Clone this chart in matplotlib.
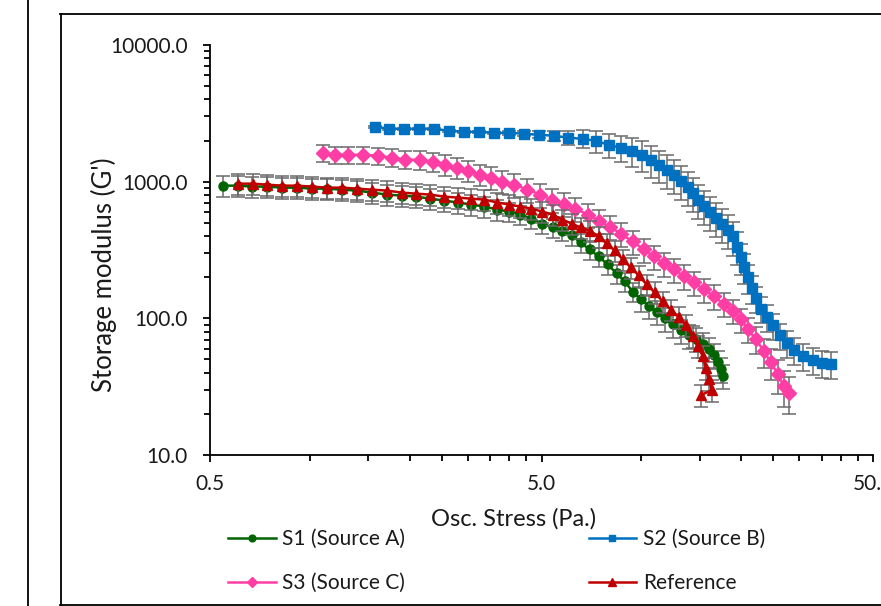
import matplotlib
matplotlib.use("Agg")
import matplotlib.pyplot as plt
from matplotlib.lines import Line2D
from matplotlib.ticker import FixedLocator, NullFormatter
import numpy as np

plt.rcParams['font.family'] = ['Lato', 'DejaVu Sans']

# ---------------- data ----------------
series_names = ["S1 (Source A)", "S2 (Source B)", "S3 (Source C)", "Reference"]

s1_x = [0.547, 0.608, 0.670, 0.743, 0.826, 0.916, 1.017, 1.128, 1.253, 1.390,
        1.543, 1.713, 1.901, 2.097, 2.310, 2.546, 2.807, 3.072, 3.364, 3.682,
        4.003, 4.32, 4.66, 5.03, 5.40, 5.78, 6.16, 6.56, 6.98, 7.43,
        7.91, 8.43, 8.91, 9.42, 9.95, 10.52, 11.13, 11.76, 12.44, 13.15,
        13.90, 14.60, 15.33, 15.98, 16.55, 17.01, 17.37, 17.61]
s1_y = [935, 935, 920, 920, 904, 904, 889, 889, 874, 860,
        831, 804, 790, 777, 751, 727, 703, 680, 657, 625,
        604, 574, 537, 494, 462, 439, 404, 359, 319, 284,
        248, 213, 186, 157, 138, 124, 111, 100, 90.4, 81.7,
        75.1, 70.3, 64.6, 59.4, 53.7, 47.7, 42.4, 37.7]
s1_err = [0.18, 0.18, 0.18, 0.18, 0.18, 0.18, 0.18, 0.18, 0.18, 0.18,
          0.18, 0.18, 0.18, 0.18, 0.18, 0.18, 0.18, 0.18, 0.18, 0.18,
          0.16, 0.16, 0.16, 0.16, 0.16, 0.16, 0.16, 0.16, 0.16, 0.16,
          0.16, 0.16, 0.16, 0.16, 0.20, 0.20, 0.20, 0.20, 0.20, 0.20,
          0.20, 0.20, 0.20, 0.20, 0.20, 0.20, 0.20, 0.20]

s2_x = [1.576, 1.737, 1.928, 2.140, 2.375, 2.637, 2.927, 3.249, 3.606, 4.003,
        4.44, 4.93, 5.47, 6.03, 6.65, 7.28, 7.97, 8.66, 9.35, 10.02,
        10.67, 11.28, 11.93, 12.53, 13.15, 13.80, 14.29, 14.80, 15.43, 16.09,
        16.78, 17.49, 18.23, 18.88, 19.41, 19.96, 20.39, 20.96, 21.55, 22.16,
        22.94, 23.92, 24.94, 26.18, 27.49, 28.86, 30.72, 32.93, 35.07, 37.33]
s2_y = [2521, 2437, 2437, 2437, 2437, 2356, 2317, 2317, 2278, 2278,
        2240, 2203, 2167, 2095, 2060, 1992, 1862, 1771, 1684, 1574,
        1447, 1331, 1223, 1125, 1017, 920, 831, 739, 668, 604,
        546, 494, 446, 397, 335, 279, 236, 199, 166, 140,
        118, 102, 88.9, 75.1, 65.7, 58.4, 52.8, 49.4, 46.9, 46.1]
s2_err = [0.02, 0.02, 0.02, 0.02, 0.02, 0.02, 0.02, 0.02, 0.02, 0.03,
          0.04, 0.06, 0.09, 0.12, 0.15, 0.18, 0.20, 0.22, 0.24, 0.25,
          0.26, 0.27, 0.28, 0.28, 0.28, 0.28, 0.28, 0.28, 0.28, 0.28,
          0.28, 0.28, 0.28, 0.28, 0.27, 0.26, 0.25, 0.24, 0.23, 0.22,
          0.22, 0.22, 0.22, 0.22, 0.22, 0.22, 0.22, 0.22, 0.22, 0.22]

s3_x = [1.098, 1.193, 1.306, 1.450, 1.609, 1.774, 1.942, 2.155, 2.359, 2.564,
        2.788, 3.009, 3.272, 3.531, 3.812, 4.144, 4.536, 4.965, 5.36, 5.83,
        6.33, 6.89, 7.43, 8.03, 8.66, 9.42, 10.17, 10.90, 11.68, 12.53,
        13.43, 14.39, 15.43, 16.55, 17.74, 18.88, 19.96, 20.96, 22.16, 23.43,
        24.59, 25.82, 26.92, 27.88]
s3_y = [1628, 1574, 1574, 1574, 1548, 1497, 1447, 1447, 1400, 1331,
        1265, 1203, 1125, 1070, 1000, 951, 874, 804, 739, 691,
        635, 574, 519, 469, 417, 365, 319, 284, 252, 228,
        203, 183, 163, 145, 127, 113, 98.3, 83.1, 70.3, 57.4,
        47.7, 39.0, 31.9, 28.4]
s3_err = [0.14, 0.14, 0.14, 0.14, 0.14, 0.15, 0.15, 0.16, 0.16, 0.17,
          0.17, 0.18, 0.18, 0.19, 0.19, 0.20, 0.20, 0.20, 0.20, 0.20,
          0.20, 0.20, 0.20, 0.20, 0.20, 0.20, 0.20, 0.20, 0.20, 0.20,
          0.20, 0.20, 0.20, 0.20, 0.20, 0.20, 0.20, 0.20, 0.22, 0.24,
          0.26, 0.28, 0.30, 0.30]

ref_x = [0.608, 0.674, 0.743, 0.826, 0.916, 1.017, 1.128, 1.253, 1.390, 1.543,
         1.713, 1.901, 2.097, 2.310, 2.546, 2.807, 3.072, 3.364, 3.682, 4.003,
         4.32, 4.66, 5.03, 5.40, 5.78, 6.16, 6.56, 6.98, 7.43, 7.86,
         8.31, 8.78, 9.29, 9.82, 10.38, 10.97, 11.60, 12.27, 12.97, 13.61,
         14.29, 14.80, 15.33, 15.65, 15.98, 16.31, 15.11]
ref_y = [967, 967, 951, 935, 935, 920, 904, 904, 889, 874,
         860, 831, 817, 804, 777, 764, 751, 739, 703, 680,
         657, 635, 604, 574, 528, 494, 462, 439, 397, 353,
         314, 270, 236, 206, 177, 155, 133, 116, 102, 88.9,
         73.9, 62.5, 52.8, 43.2, 35.9, 29.8, 27.4]
ref_err = [0.18, 0.18, 0.18, 0.18, 0.18, 0.18, 0.18, 0.18, 0.18, 0.18,
           0.18, 0.18, 0.18, 0.18, 0.18, 0.18, 0.18, 0.18, 0.18, 0.18,
           0.18, 0.18, 0.18, 0.18, 0.18, 0.18, 0.18, 0.18, 0.18, 0.18,
           0.18, 0.18, 0.18, 0.18, 0.18, 0.18, 0.18, 0.18, 0.18, 0.18,
           0.18, 0.18, 0.18, 0.18, 0.18, 0.18, 0.18]

x_ticks = [0.5, 5.0, 50.0]
x_tick_labels = ["0.5", "5.0", "50.0"]
y_ticks = [10, 100, 1000, 10000]
y_tick_labels = ["10.0", "100.0", "1000.0", "10000.0"]

x_label = "Osc. Stress (Pa.)"
y_label = "Storage modulus (G')"

# ---------------- figure ----------------
W, H = 881, 606
fig = plt.figure(figsize=(W / 100, H / 100), dpi=100)

def fx(px):
    return px / W

def fy(py):
    return 1 - py / H

ax = fig.add_axes([fx(210), fy(455), fx(873) - fx(210), fy(45) - fy(455)])
ax.set_xscale('log')
ax.set_yscale('log')
ax.set_xlim(0.5, 50)
ax.set_ylim(10, 10000)

styles = [
    dict(color='#006400', marker='o', ms=6.5),
    dict(color='#0070C0', marker='s', ms=6.5),
    dict(color='#FF3EA5', marker='D', ms=7.0),
    dict(color='#C00000', marker='^', ms=7.5),
]
data = [(s1_x, s1_y, s1_err), (s2_x, s2_y, s2_err), (s3_x, s3_y, s3_err), (ref_x, ref_y, ref_err)]

handles = []
z = 2
for (xs, ys, es), st, name in zip(data, styles, series_names):
    xs = np.array(xs)
    ys = np.array(ys)
    yerr = ys * np.array(es)
    ax.errorbar(xs, ys, yerr=yerr, fmt='none', ecolor='#6A6A6A', elinewidth=1.1,
                capsize=5, capthick=1.1, zorder=z)
    ln, = ax.plot(xs, ys, color=st['color'], lw=1.8, marker=st['marker'],
                  ms=st['ms'], mec=st['color'], mfc=st['color'], zorder=z + 1,
                  label=name)
    handles.append(ln)
    z += 2

# axes styling
for s in ['top', 'right']:
    ax.spines[s].set_visible(False)
for s in ['left', 'bottom']:
    ax.spines[s].set_linewidth(1.3)
    ax.spines[s].set_color('black')

ax.xaxis.set_major_locator(FixedLocator(x_ticks))
ax.set_xticklabels(x_tick_labels)
x_minor = [0.5 * k * 10 ** n for n in range(0, 2) for k in range(2, 10)]
ax.xaxis.set_minor_locator(FixedLocator(x_minor))
ax.xaxis.set_minor_formatter(NullFormatter())

ax.yaxis.set_major_locator(FixedLocator(y_ticks))
ax.set_yticklabels(y_tick_labels)
y_minor = [k * 10 ** n for n in range(1, 4) for k in range(2, 10)]
ax.yaxis.set_minor_locator(FixedLocator(y_minor))
ax.yaxis.set_minor_formatter(NullFormatter())

ax.tick_params(which='major', direction='out', length=5, width=1.3, color='black',
               labelsize=15, labelcolor='#1A1A1A')
ax.tick_params(axis='y', which='major', pad=11)
ax.tick_params(axis='x', which='major', pad=9)
ax.tick_params(which='minor', direction='out', length=4, width=1.3, color='black')

fig.text(fx(514), fy(519), x_label, ha='center', va='center', fontsize=17, color='#1A1A1A')
fig.text(fx(104), fy(275), y_label, ha='center', va='center', rotation=90,
         fontsize=18.5, color='#1A1A1A')

# legend: rows are (S1, S2) and (S3, Reference); matplotlib fills column-wise
leg_order = [0, 2, 1, 3]
leg = fig.legend(handles=[handles[i] for i in leg_order],
                 labels=[series_names[i] for i in leg_order],
                 ncol=2, loc='upper left',
                 bbox_to_anchor=(fx(228), fy(529)), borderaxespad=0, borderpad=0,
                 frameon=False, fontsize=15, handlelength=2.3, handletextpad=0.3,
                 columnspacing=8.8, labelspacing=1.15, markerscale=0.75)
for t in leg.get_texts():
    t.set_color('#1A1A1A')

# chart frames
frame_kw = dict(color='black', lw=1.3, transform=fig.transFigure, clip_on=False)
fig.add_artist(Line2D([fx(28), fx(28)], [0, 1], **frame_kw))
fig.add_artist(Line2D([fx(60), 1.0], [fy(13.5), fy(13.5)], **frame_kw))
fig.add_artist(Line2D([fx(60.5), fx(60.5)], [fy(13.5), fy(604.5)], **frame_kw))
fig.add_artist(Line2D([fx(60), 1.0], [fy(604.5), fy(604.5)], **frame_kw))

fig.savefig('out.png', dpi=100)
